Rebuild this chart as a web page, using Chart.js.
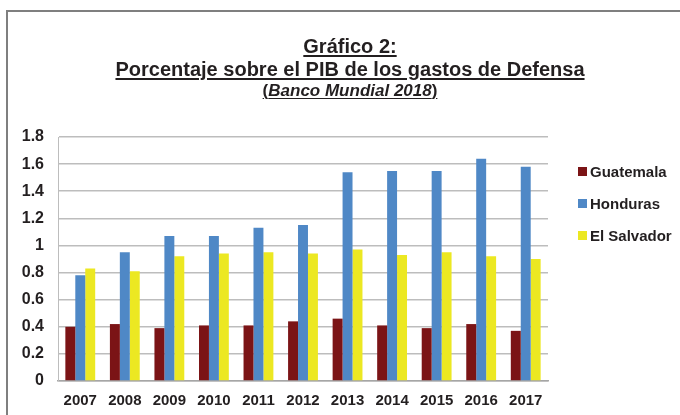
<!DOCTYPE html>
<html>
<head>
<meta charset="utf-8">
<script src="https://cdn.jsdelivr.net/npm/chart.js@4/dist/chart.umd.min.js"></script>
<style>
  html, body { margin: 0; padding: 0; background: #fff; }
  #wrap { position: relative; width: 680px; height: 415px; overflow: hidden; }
  #frame { position: absolute; left: 6px; top: 10px; width: 700px; height: 420px;
           border-left: 2px solid #7f7f7f; border-top: 2px solid #7f7f7f; }
  .ttl { position: absolute; left: 0; width: 700px; text-align: center;
         font-family: "Liberation Sans", Arial, sans-serif; font-weight: bold; color: #231f20;
         white-space: nowrap; }
  .ttl span { display: inline-block; text-decoration: underline; text-underline-offset: 2px; }
  #legend { position: absolute; left: 578px; top: 162px;
            font-family: "Liberation Sans", Arial, sans-serif; font-weight: bold; font-size: 15px; color: #231f20; }
  #legend div { height: 32px; line-height: 20px; white-space: nowrap; }
  #legend i { display: inline-block; width: 9px; height: 9px; margin-right: 3px; vertical-align: 1px; }
  canvas { position: absolute; left: 0; top: 0; }
</style>
</head>
<body>
<div id="wrap">
  <div id="frame"></div>
  <canvas id="bars" width="680" height="415"></canvas>
  <div class="ttl" style="top:35px;font-size:20px;"><span>Gráfico 2:</span></div>
  <div class="ttl" style="top:58px;font-size:20px;"><span>Porcentaje sobre el PIB de los gastos de Defensa</span></div>
  <div class="ttl" style="top:81px;font-size:17px;"><span>(<i>Banco Mundial 2018</i>)</span></div>
  <div id="legend"></div>
</div>
<script>
const years = ["2007", "2008", "2009", "2010", "2011", "2012", "2013", "2014", "2015", "2016", "2017"];
const guatemala = [0.40, 0.42, 0.39, 0.41, 0.41, 0.44, 0.46, 0.41, 0.39, 0.42, 0.37];
const honduras = [0.78, 0.95, 1.07, 1.07, 1.13, 1.15, 1.54, 1.55, 1.55, 1.64, 1.58];
const el_salvador = [0.83, 0.81, 0.92, 0.94, 0.95, 0.94, 0.97, 0.93, 0.95, 0.92, 0.90];
const series_names = ["Guatemala", "Honduras", "El Salvador"];
const series_colors = ["#7b1416", "#4f88c6", "#ece822"];

const bars_ctx = document.getElementById("bars").getContext("2d");

new Chart(bars_ctx, {
    "type": "bar",
    "data": {
        "labels": years,
        "datasets": [guatemala, honduras, el_salvador].map(function (values, i) {
            return {
                "label": series_names[i],
                "data": values,
                "backgroundColor": series_colors[i],
                "borderWidth": 0,
                "barPercentage": 1.0,
                "categoryPercentage": 0.67
            };
        })
    },
    "options": {
        "responsive": false,
        "animation": false,
        "layout": {"padding": {"left": 0, "top": 137, "right": 132, "bottom": 0}},
        "plugins": {"legend": {"display": false}, "tooltip": {"enabled": false}},
        "scales": {
            "x": {
                "grid": {"display": false, "drawTicks": false},
                "border": {"color": "#a6a6a6", "width": 1.5},
                "ticks": {"color": "#231f20", "padding": 11, "font": {"family": "Liberation Sans", "size": 15, "weight": "bold"}},
                "afterFit": function (scale) { scale.height = 34; }
            },
            "y": {
                "min": 0,
                "max": 1.8,
                "ticks": {"stepSize": 0.2, "color": "#231f20", "padding": 14,
                          "font": {"family": "Liberation Sans", "size": 16, "weight": "bold"},
                          "callback": function (v) { return Math.round(v * 10) / 10; }},
                "grid": {"color": "#bdbdbd", "lineWidth": 1.5, "drawTicks": false},
                "border": {"color": "#bdbdbd", "width": 1},
                "afterFit": function (scale) { scale.width = 58; }
            }
        }
    }
});

// legend on the right, same order as the datasets
const legend_div = document.getElementById("legend");
series_names.forEach(function (name, i) {
    const row = document.createElement("div");
    row.innerHTML = '<i style="background:' + series_colors[i] + '"></i>' + name;
    legend_div.appendChild(row);
});
</script>
</body>
</html>
